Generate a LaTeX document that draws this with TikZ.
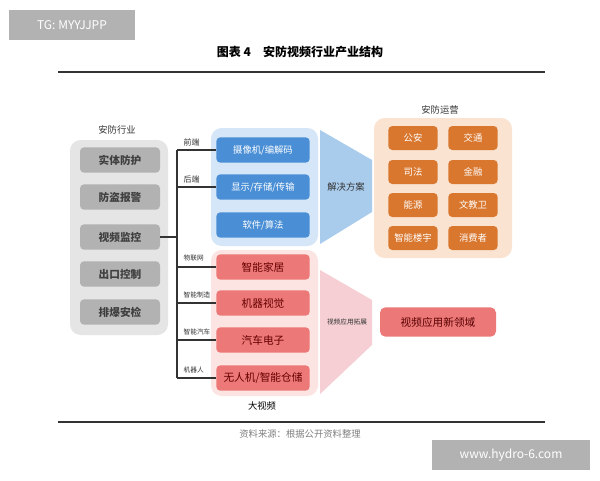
\documentclass[tikz,border=0pt]{standalone}
\usepackage{fontspec}
\setmainfont{Noto Sans CJK SC}
\definecolor{bblue}{HTML}{4A8FD6}
\definecolor{pblue}{HTML}{D4E6F8}
\definecolor{fblue}{HTML}{A9CBEC}
\definecolor{bred}{HTML}{EC7878}
\definecolor{pred}{HTML}{FBE4E2}
\definecolor{fred}{HTML}{F5CFD3}
\definecolor{borange}{HTML}{D9772E}
\definecolor{porange}{HTML}{FBE3D2}
\begin{document}
\begin{tikzpicture}[x=0.75pt,y=-0.75pt,
  panel/.style={rounded corners=8pt,draw=none},
  gbox/.style={fill=gray!60,rounded corners=3pt,minimum width=60pt,minimum height=19pt,font=\bfseries\fontsize{8}{9}\selectfont,text=black!75},
  bbox/.style={fill=bblue,rounded corners=3pt,minimum width=70pt,minimum height=19pt,font=\fontsize{7}{8}\selectfont,text=white},
  rbox/.style={fill=bred,rounded corners=3pt,minimum width=70pt,minimum height=19pt,font=\fontsize{8}{9}\selectfont,text=red!40!black},
  obox/.style={fill=borange,rounded corners=3pt,minimum width=37pt,minimum height=18pt,font=\fontsize{7}{8}\selectfont,text=white},
  lab/.style={font=\fontsize{6}{7}\selectfont,text=black!80},
  tline/.style={line width=0.8pt,black!80}]
\useasboundingbox (0,0) rectangle (600,480);
\fill[white] (0,0) rectangle (600,480);
% watermarks
\node[fill=gray!60,minimum width=94pt,minimum height=22pt,text=white,font=\fontsize{9}{10}\selectfont] (wm1) at (72,25) {TG: MYYJJPP};
\node[fill=gray!60,minimum width=118pt,minimum height=22pt,text=white,font=\fontsize{9}{10}\selectfont] (wm2) at (511,455) {www.hydro-6.com};
\node[font=\bfseries\fontsize{9}{10}\selectfont] (title) at (300,52) {图表 4\quad 安防视频行业产业结构};
\draw[black!80,line width=0.8pt] (58,72) -- (545,72);
\draw[black!80,line width=0.8pt] (58,422) -- (545,422);
\node[font=\fontsize{7}{8}\selectfont,text=gray] (src) at (300,434) {资料来源：根据公开资料整理};
% left panel
\fill[gray!20,panel] (70,140) rectangle (168,335);
\node[lab,font=\fontsize{7}{8}\selectfont] (lt) at (117,130) {安防行业};
\node[gbox] (g1) at (120,160) {实体防护};
\node[gbox] (g2) at (120,197) {防盗报警};
\node[gbox] (g3) at (120,237) {视频监控};
\node[gbox] (g4) at (120,274) {出口控制};
\node[gbox] (g5) at (120,312) {排爆安检};
% blue panel
\fill[pblue,panel] (211,128) rectangle (318,246);
\node[bbox] (b1) at (263,150) {摄像机/编解码};
\node[bbox] (b2) at (263,187) {显示/存储/传输};
\node[bbox] (b3) at (263,225) {软件/算法};
% red panel
\fill[pred,panel] (211,250) rectangle (318,396);
\node[rbox] (r1) at (263,267) {智能家居};
\node[rbox] (r2) at (263,303) {机器视觉};
\node[rbox] (r3) at (263,340) {汽车电子};
\node[rbox] (r4) at (263,378) {无人机/智能仓储};
\node[font=\fontsize{7}{8}\selectfont] (dsp) at (262,406) {大视频};
% tree
\coordinate (jn) at (177,237);
\draw[tline] (g3.east) -- (jn);
\draw[tline] (177,150) -- (177,378);
\foreach \n/\y in {b1/150,b2/187,r1/267,r2/303,r3/340,r4/378}{\draw[tline] (177,\y) -- (\n.west);}
\node[lab,anchor=west] (l1) at (179,142) {前端};
\node[lab,anchor=west] (l2) at (179,179) {后端};
\node[lab,anchor=west,font=\fontsize{5}{6}\selectfont] (l3) at (179,258) {物联网};
\node[lab,anchor=west,font=\fontsize{5}{6}\selectfont] (l4) at (179,295) {智能制造};
\node[lab,anchor=west,font=\fontsize{5}{6}\selectfont] (l5) at (179,332) {智能汽车};
\node[lab,anchor=west,font=\fontsize{5}{6}\selectfont] (l6) at (179,370) {机器人};
% funnels
\fill[fblue] (320,130) -- (372,160) -- (372,212) -- (320,244) -- cycle;
\node[lab,font=\fontsize{7}{8}\selectfont] (jj) at (346,187) {解决方案};
\fill[fred] (320,270) -- (372,300) -- (372,345) -- (320,394) -- cycle;
\node[lab,font=\fontsize{5}{6}\selectfont] (tz) at (347,322) {视频应用拓展};
% orange panel
\fill[porange,panel] (374,118) rectangle (512,258);
\node[lab,font=\fontsize{7}{8}\selectfont] (ay) at (440,110) {安防运营};
\node[obox] (o1) at (413,138) {公安};
\node[obox] (o2) at (473,138) {交通};
\node[obox] (o3) at (413,172) {司法};
\node[obox] (o4) at (473,172) {金融};
\node[obox] (o5) at (413,205) {能源};
\node[obox] (o6) at (473,205) {文教卫};
\node[obox] (o7) at (413,238) {智能楼宇};
\node[obox] (o8) at (473,238) {消费者};
\node[fill=bred,rounded corners=4pt,minimum width=87pt,minimum height=22pt,font=\fontsize{8}{9}\selectfont,text=red!35!black] (nf) at (438,322) {视频应用新领域};
\end{tikzpicture}
\end{document}
